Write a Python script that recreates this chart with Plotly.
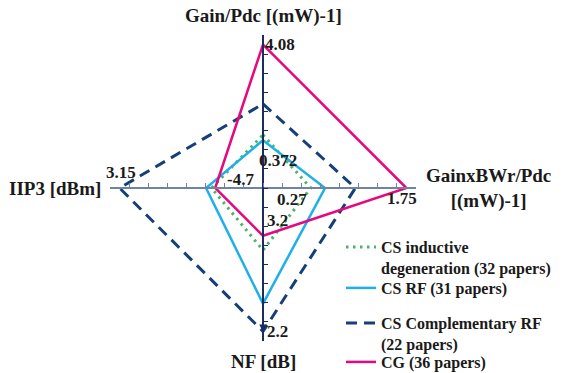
import plotly.graph_objects as go

# Axes (order: up, right, down, left)
axis_names = ["Gain/Pdc [(mW)-1]", "GainxBWr/Pdc<br>[(mW)-1]", "NF [dB]", "IIP3 [dBm]"]
axis_worst = [0.372, 0.27, 3.2, -4.7]   # value drawn at the inner level
axis_best = [4.08, 1.75, 2.2, 3.15]     # value drawn at the outer level

# Series values (Gain/Pdc, GainxBWr/Pdc, NF, IIP3)
series_names = ["CS inductive<br>degeneration (32 papers)", "CS RF (31 papers)",
                "CS Complementary RF<br>(22 papers)", "CG (36 papers)"]
cs_ind = [0.58, 0.27, 3.05, -4.40]
cs_rf = [0.372, 0.49, 2.49, -3.95]
cs_comp = [1.78, 0.96, 2.2, 3.15]
cg = [4.08, 1.75, 3.2, -4.7]

colors = ["#4fb26a", "#1fb0e8", "#143f7a", "#e6087f"]
dashes = ["2.5px,4.5px", "solid", "11px,7px", "solid"]
widths = [3, 2.5, 3, 2.5]
legends = ["legend", "legend2", "legend3", "legend4"]
legend_text_y = [247, 290, 323, 364]   # pixel row of each legend entry's first line

INNER, OUTER = 1.0, 3.0
dirs = [(0, 1), (1, 0), (0, -1), (-1, 0)]


def to_xy(vals):
    xs, ys = [], []
    for v, lo, hi, (dx, dy) in zip(vals, axis_worst, axis_best, dirs):
        r = INNER + (OUTER - INNER) * (v - lo) / (hi - lo)
        xs.append(dx * r)
        ys.append(dy * r)
    return xs + xs[:1], ys + ys[:1]


fig = go.Figure()
for name, vals, c, d, w, lg in zip(series_names, [cs_ind, cs_rf, cs_comp, cg],
                                   colors, dashes, widths, legends):
    x, y = to_xy(vals)
    fig.add_trace(go.Scatter(x=x, y=y, mode="lines", name=name,
                             line=dict(color=c, dash=d, width=w),
                             legend=lg, cliponaxis=False))

FONT = "Liberation Serif, Times New Roman, serif"
R = 3.2
L, T, W, H = 110, 35, 306, 306

legend_layout = {}
for lg, ty, nm in zip(legends, legend_text_y, series_names):
    off = 17 if "<br>" in nm else 19
    legend_layout[lg] = dict(x=(341 - L) / W, y=(T + H - (ty - off)) / H,
                             xanchor="left", yanchor="top", valign="top",
                             bgcolor="rgba(0,0,0,0)",
                             font=dict(size=16, family=FONT, weight="bold"),
                             tracegroupgap=0)

fig.update_layout(
    width=566, height=373,
    margin=dict(l=L, r=566 - L - W, t=T, b=373 - T - H, autoexpand=False),
    paper_bgcolor="white", plot_bgcolor="rgba(0,0,0,0)",
    font=dict(family=FONT, size=17, color="#1a1a1a", weight="bold"),
    xaxis=dict(range=[-R, R], showgrid=False, zeroline=False, showline=True,
               linecolor="#6f83a2", linewidth=2, ticks="inside", ticklen=4,
               tickcolor="#6f83a2", tickwidth=1, tick0=0, dtick=0.4,
               showticklabels=False, anchor="free", position=0.5, fixedrange=True),
    yaxis=dict(range=[-R, R], showgrid=False, zeroline=False, showline=True,
               linecolor="#1b2d5c", linewidth=1.5, ticks="inside", ticklen=4,
               tickcolor="#1b2d5c", tickwidth=1, tick0=0, dtick=0.4,
               showticklabels=False, anchor="free", position=0.5, fixedrange=True),
    showlegend=True,
    **legend_layout,
)


def ann(text, px, py, xanchor="left", size=17):
    fig.add_annotation(x=(px - L) / W, y=(T + H - py) / H, xref="paper", yref="paper",
                       text=text, showarrow=False, xanchor=xanchor, yanchor="middle",
                       font=dict(size=size, family=FONT, weight="bold", color="#1a1a1a"))


# axis titles
ann(axis_names[0], 263, 16, "center", 19)
ann(axis_names[1], 488, 188, "center", 19)
ann(axis_names[2], 263, 361, "center", 19)
ann(axis_names[3], 103, 188, "right", 19)
# axis scale labels
ann(f"{axis_best[0]:.2f}", 263, 44)
ann(f"{axis_worst[0]}", 257, 160)
ann(f"{axis_best[1]}", 385, 198)
ann(f"{axis_worst[1]}", 275, 199)
ann(f"{axis_best[2]}", 265, 331)
ann(f"{axis_worst[2]}", 265, 220)
ann(f"{axis_best[3]}", 104, 172)
ann(f"{axis_worst[3]}", 225, 179)

# direction arrowhead near the bottom of the vertical axis
fig.add_annotation(x=0.5, y=(T + H - 332) / H, xref="paper", yref="paper",
                   ax=0, ay=-6, axref="pixel", ayref="pixel", showarrow=True,
                   arrowhead=2, arrowsize=1, arrowwidth=1.5, arrowcolor="#1b2d5c", text="")

fig.write_html("out.html", config={"displayModeBar": False},
               post_script="document.body.style.margin='0';")
